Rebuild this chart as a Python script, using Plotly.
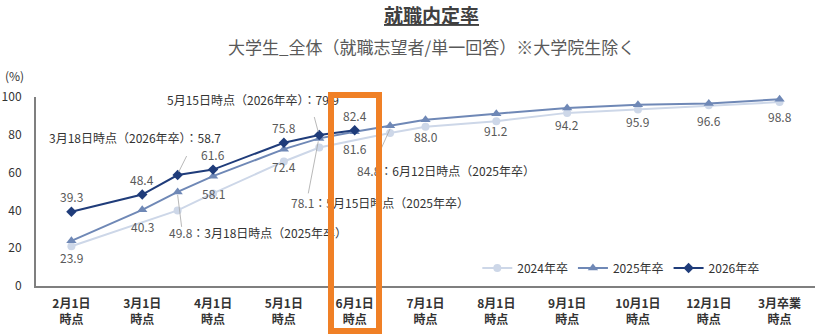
import plotly.graph_objects as go

# Survey checkpoints shown on the x axis
categories = ["2月1日時点", "3月1日時点", "4月1日時点", "5月1日時点", "6月1日時点",
              "7月1日時点", "8月1日時点", "9月1日時点", "10月1日時点", "12月1日時点",
              "3月卒業時点"]

# Job-offer rate (%) by survey date, per graduating year
dates_2024 = ["2月1日", "3月15日", "4月1日", "5月1日", "5月15日", "6月15日",
              "7月1日", "8月1日", "9月1日", "10月1日", "12月1日", "3月卒業"]
rate_2024 = [21.0, 40.0, 49.0, 65.9, 73.3, 81.0, 84.2, 87.2, 91.6, 93.4, 95.6, 97.3]

dates_2025 = ["2月1日", "3月1日", "3月18日", "4月1日", "5月1日", "5月15日", "6月1日",
              "6月12日", "7月1日", "8月1日", "9月1日", "10月1日", "12月1日", "3月卒業"]
rate_2025 = [23.9, 40.3, 49.8, 58.1, 72.4, 78.1, 81.6, 84.8, 88.0, 91.2, 94.2, 95.9, 96.6, 98.8]

dates_2026 = ["2月1日", "3月1日", "3月18日", "4月1日", "5月1日", "5月15日", "6月1日"]
rate_2026 = [39.3, 48.4, 58.7, 61.6, 75.8, 79.9, 82.4]

series_names = ["2024年卒", "2025年卒", "2026年卒"]

FONT = "Noto Sans CJK JP"
COLORS = {"2024年卒": "#CDD7E8", "2025年卒": "#6F88B6", "2026年卒": "#1F3C7A"}
SYMBOLS = {"2024年卒": "circle", "2025年卒": "triangle-up", "2026年卒": "diamond"}
MSIZE = {"2024年卒": 8, "2025年卒": 9, "2026年卒": 8}


def md_key(s):
    """Order key (academic year) of a date such as '3月18日'."""
    if s.startswith("3月卒業"):
        return (99, 0)
    m = int(s.split("月")[0])
    d = int(s.split("月")[1].rstrip("日"))
    return ((m - 2) % 12, d)


cat_keys = [md_key(c.replace("時点", "")) for c in categories]


def position(date):
    """Dates on a checkpoint sit on its tick; in-between surveys sit half way."""
    k = md_key(date)
    if k in cat_keys:
        return float(cat_keys.index(k))
    idx = max(i for i, ck in enumerate(cat_keys) if ck <= k)
    return idx + 0.5


fig = go.Figure()
data = {
    "2024年卒": (dates_2024, rate_2024),
    "2025年卒": (dates_2025, rate_2025),
    "2026年卒": (dates_2026, rate_2026),
}
for name in series_names:
    dts, vals = data[name]
    fig.add_trace(go.Scatter(
        x=[position(d) for d in dts], y=vals, name=name, mode="lines+markers",
        line=dict(color=COLORS[name], width=2),
        marker=dict(symbol=SYMBOLS[name], size=MSIZE[name], color=COLORS[name]),
        cliponaxis=False,
    ))

annotations = []
shapes = []
LABEL_FONT = dict(family=FONT, size=12, color="#595959")
CALLOUT_FONT = dict(family=FONT, size=12, color="#333333")

# Callout placement for the in-between surveys: text shift, leader line (pixels)
callouts = {
    ("2026年卒", "3月18日"): dict(shift=(-43, 38), line=(1, 3, 9, 19)),
    ("2026年卒", "5月15日"): dict(shift=(-66, 35), line=(-1, 3, -5, 18)),
    ("2025年卒", "3月18日"): dict(shift=(80, -41), line=(0, -3, 4, -35)),
    ("2025年卒", "5月15日"): dict(shift=(61, -64), line=(-1, -3, -11, -55)),
    ("2025年卒", "6月12日"): dict(shift=(56, -45), line=(0, -3, -13, -32)),
}

for name, above in (("2026年卒", True), ("2025年卒", False)):
    dts, vals = data[name]
    for d, v in zip(dts, vals):
        x = position(d)
        key = (name, d)
        if key in callouts:
            c = callouts[key]
            if above:
                txt = f"{d}時点（{name}）：{v:.1f}"
            else:
                txt = f"<span style='color:#595959'>{v:.1f}</span>：{d}時点（{name}）"
            annotations.append(dict(
                x=x, y=v, xref="x", yref="y", text=txt, showarrow=False,
                xshift=c["shift"][0], yshift=c["shift"][1], font=CALLOUT_FONT))
            x0, y0, x1, y1 = c["line"]
            shapes.append(dict(
                type="line", xref="x", yref="y", xsizemode="pixel", ysizemode="pixel",
                xanchor=x, yanchor=v, x0=x0, y0=y0, x1=x1, y1=y1,
                line=dict(color="#A6A6A6", width=0.8)))
        else:
            annotations.append(dict(
                x=x, y=v, xref="x", yref="y", text=f"{v:.1f}", showarrow=False,
                yshift=15 if above else -17, font=LABEL_FONT))

# Titles and unit
annotations.append(dict(
    x=(430 - 33) / 782, y=(286 - 15) / 189, xref="paper", yref="paper",
    xanchor="center", yanchor="middle",
    text="<b><u>就職内定率</u></b>", showarrow=False,
    font=dict(family=FONT, size=19, color="#404040")))
annotations.append(dict(
    x=(430 - 33) / 782, y=(286 - 46) / 189, xref="paper", yref="paper",
    xanchor="center", yanchor="middle",
    text="大学生_全体（就職志望者/単一回答）※大学院生除く", showarrow=False,
    font=dict(family=FONT, size=17, color="#595959")))
annotations.append(dict(
    x=-33 / 782, y=(286 - 76) / 189, xref="paper", yref="paper",
    xanchor="left", yanchor="middle",
    text="(%)", showarrow=False, font=dict(family=FONT, size=12, color="#333333")))

# Highlight frame around the latest checkpoint
annotations.append(dict(
    x=position("6月1日"), y=(286 - 92) / 189, xref="x", yref="paper",
    xanchor="center", yanchor="top", text=" ", showarrow=False, width=42, height=230,
    borderwidth=6, borderpad=0, bordercolor="#F08026", bgcolor="rgba(0,0,0,0)"))

fig.update_layout(
    width=817, height=334,
    margin=dict(l=33, r=2, t=97, b=48),
    paper_bgcolor="white", plot_bgcolor="white",
    font=dict(family=FONT, size=12, color="#333333"),
    showlegend=True,
    legend=dict(orientation="h", x=(476 - 33) / 782, y=(286 - 268) / 189,
                xanchor="left", yanchor="middle", bgcolor="rgba(0,0,0,0)",
                font=dict(family=FONT, size=12, color="#333333"),
                itemwidth=30, tracegroupgap=0),
    annotations=annotations,
    shapes=shapes,
)
fig.update_xaxes(
    range=[-0.5, 10.5], tickmode="array", tickvals=list(range(len(categories))),
    ticktext=["<b>" + c.replace("時点", "<br>時点") + "</b>" for c in categories],
    showline=True, linecolor="#7F7F7F", linewidth=2, showgrid=False, zeroline=False,
    ticks="", ticklabelstandoff=6, tickfont=dict(family=FONT, size=12, color="#333333"),
)
fig.update_yaxes(
    range=[0, 100], tickmode="array", tickvals=[0, 20, 40, 60, 80, 100],
    showline=True, linecolor="#7F7F7F", linewidth=2, showgrid=False, zeroline=False,
    ticks="", ticklabelstandoff=10, tickfont=dict(family=FONT, size=12, color="#333333"),
)

fig.write_html("out.html")
